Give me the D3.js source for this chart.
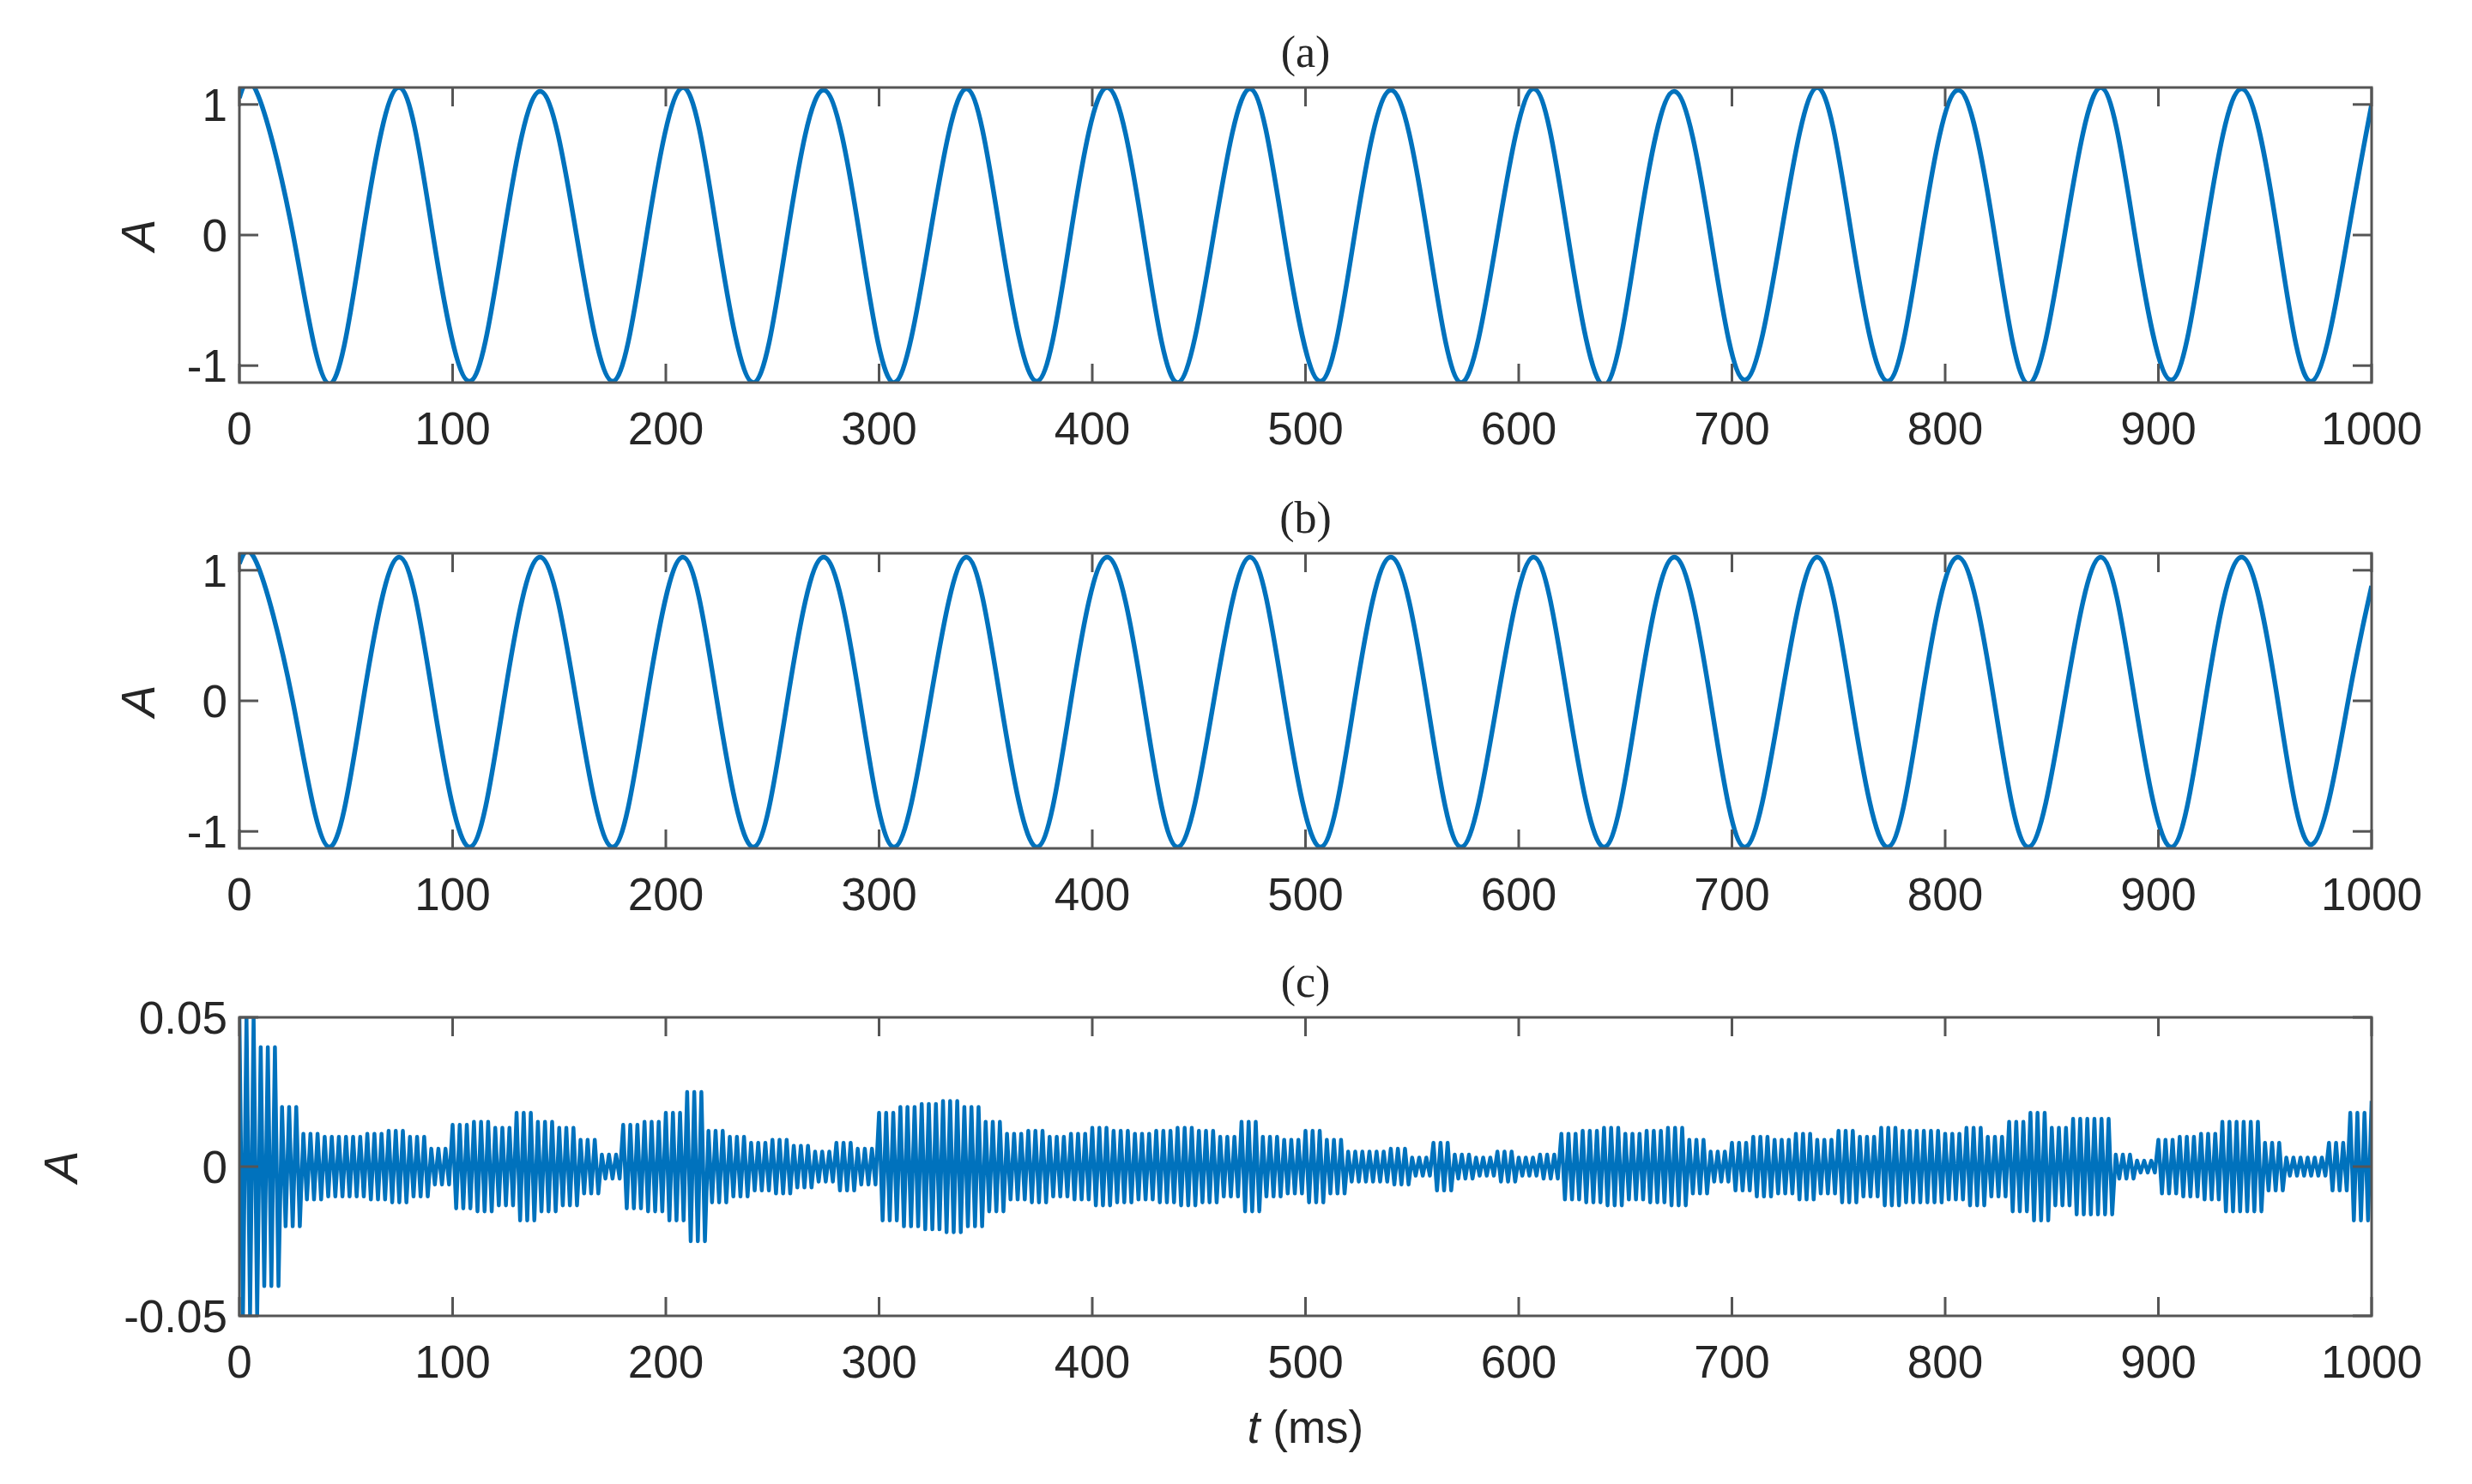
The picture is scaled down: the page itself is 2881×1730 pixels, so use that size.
<!DOCTYPE html>
<html><head><meta charset="utf-8">
<script src="https://cdn.jsdelivr.net/npm/d3@7"></script>
<style>body{margin:0;background:#fff}</style></head>
<body><svg id="c" width="2881" height="1730"></svg>
<script>
// Key points of panel (a) (noisy sine) and (b) (clean sine)
const tKey = [0,8,25,42,58,75,91,108,124,141,158,175,191,208,224,241,257,274,291,307,324,341,357,374,390,407,424,440,457,474,490,507,523,540,557,573,590,607,623,640,656,673,690,706,723,740,756,773,789,806,823,839,856,873,889,906,922,939,956,972,989,1000];
const aVals = [1.05,1.1,0.02,-1.14,0.01,1.13,-0.02,-1.12,0.0,1.1,0.01,-1.12,0.0,1.13,0.02,-1.13,0.0,1.11,-0.01,-1.13,0.01,1.12,0.0,-1.12,0.02,1.13,0.0,-1.13,0.01,1.12,-0.01,-1.12,0.0,1.11,0.02,-1.13,0.0,1.12,0.0,-1.15,0.01,1.1,-0.01,-1.11,0.0,1.13,0.01,-1.12,0.0,1.11,0.02,-1.14,0.0,1.13,0.0,-1.11,0.01,1.12,0.0,-1.12,0.01,1.0];
const bVals = [1.05,1.06,0.0,-1.12,0.0,1.1,0.0,-1.12,0.0,1.1,0.0,-1.12,0.0,1.1,0.0,-1.12,0.0,1.1,0.0,-1.12,0.0,1.1,0.0,-1.12,0.0,1.1,0.0,-1.12,0.0,1.1,0.0,-1.12,0.0,1.1,0.0,-1.12,0.0,1.1,0.0,-1.12,0.0,1.1,0.0,-1.12,0.0,1.1,0.0,-1.12,0.0,1.1,0.0,-1.12,0.0,1.1,0.0,-1.12,0.0,1.1,0.0,-1.1,0.0,0.88];
// Panel (c): residual amplitude envelope per 10 ms bin (units of 0.01)
const cEnv = [5,4,2,1.1,1.0,1.0,1.1,1.2,1.0,0.6,
1.4,1.5,1.3,1.8,1.5,1.3,0.9,0.4,1.4,1.5,
1.8,2.5,1.2,1.0,0.8,0.9,0.7,0.5,0.8,0.6,
1.8,2.0,2.1,2.2,2.0,1.5,1.1,1.2,1.0,1.1,
1.3,1.2,1.1,1.2,1.3,1.2,1.0,1.5,1.0,0.9,
1.2,0.9,0.5,0.5,0.6,0.3,0.8,0.4,0.3,0.5,
0.3,0.4,1.1,1.2,1.3,1.1,1.2,1.3,0.9,0.5,
0.8,1.0,0.9,1.1,0.9,1.2,1.0,1.3,1.2,1.2,
1.1,1.3,1.0,1.5,1.8,1.3,1.6,1.6,0.4,0.2,
0.9,1.0,1.1,1.5,1.5,0.8,0.3,0.3,0.8,1.8,2.2];
const xTicks = [0,100,200,300,400,500,600,700,800,900,1000];
const titles = ["(a)","(b)","(c)"];

const svg=d3.select("#c");
const L=279,R=2764;
const panels=[
 {top:102,bot:446,dom:[-1.13,1.13],ticks:[-1,0,1],fmt:d=>String(d),
  data:tKey.map((t,i)=>[t,aVals[i]]),curve:d3.curveNatural,ylx:162},
 {top:645,bot:989,dom:[-1.13,1.13],ticks:[-1,0,1],fmt:d=>String(d),
  data:tKey.map((t,i)=>[t,bVals[i]]),curve:d3.curveNatural,ylx:162},
 {top:1186,bot:1534,dom:[-0.05,0.05],ticks:[-0.05,0,0.05],fmt:d=>d===0?"0":d.toFixed(2),
  data:(()=>{const p=[];cEnv.forEach((e,i)=>{if(i<100){for(let k=0;k<6;k++){const t=i*10+k*10/6;p.push([t,(k%2?-1:1)*e/100]);}}else p.push([1000,e/100]);});return p;})(),
  curve:d3.curveLinear,ylx:72}
];
const x=d3.scaleLinear().domain([0,1000]).range([L,R]);
const font="'Liberation Sans',Arial,sans-serif";
panels.forEach((p,pi)=>{
  const y=d3.scaleLinear().domain(p.dom).range([p.bot,p.top]);
  const g=svg.append("g");
  const clip="clip"+pi;
  g.append("clipPath").attr("id",clip).append("rect").attr("x",L).attr("y",p.top).attr("width",R-L).attr("height",p.bot-p.top);
  g.append("path").datum(p.data).attr("clip-path",`url(#${clip})`)
   .attr("d",d3.line().x(d=>x(d[0])).y(d=>y(d[1])).curve(p.curve))
   .attr("fill","none").attr("stroke","#0072BD").attr("stroke-width",pi===2?4.5:5.5).attr("stroke-linejoin","round");
  const ax=svg.append("g").attr("stroke","#555").attr("stroke-width",3);
  ax.append("rect").attr("x",L).attr("y",p.top).attr("width",R-L).attr("height",p.bot-p.top).attr("fill","none");
  const tl=22;
  xTicks.forEach(t=>{
    ax.append("line").attr("x1",x(t)).attr("x2",x(t)).attr("y1",p.bot).attr("y2",p.bot-tl);
    ax.append("line").attr("x1",x(t)).attr("x2",x(t)).attr("y1",p.top).attr("y2",p.top+tl);
    svg.append("text").attr("x",x(t)).attr("y",p.bot+72).attr("text-anchor","middle")
      .attr("font-family",font).attr("font-size",53).attr("fill","#262626").text(t);
  });
  p.ticks.forEach(t=>{
    ax.append("line").attr("x1",L).attr("x2",L+tl).attr("y1",y(t)).attr("y2",y(t));
    ax.append("line").attr("x1",R).attr("x2",R-tl).attr("y1",y(t)).attr("y2",y(t));
    svg.append("text").attr("x",L-14).attr("y",y(t)+19).attr("text-anchor","end")
      .attr("font-family",font).attr("font-size",53).attr("fill","#262626").text(p.fmt(t));
  });
  svg.append("text").attr("transform",`translate(${p.ylx+18},${(p.top+p.bot)/2}) rotate(-90)`)
    .attr("text-anchor","middle").attr("font-family",font).attr("font-style","italic")
    .attr("font-size",56).attr("fill","#262626").text("A");
  svg.append("text").attr("x",(L+R)/2).attr("y",p.top-24).attr("text-anchor","middle")
    .attr("font-family","'Liberation Serif',serif").attr("font-size",52).attr("fill","#262626").text(titles[pi]);
});
const xl=svg.append("text").attr("x",(L+R)/2).attr("y",1682).attr("text-anchor","middle")
  .attr("font-family",font).attr("font-size",53).attr("fill","#262626");
xl.append("tspan").attr("font-style","italic").text("t");
xl.append("tspan").text(" (ms)");
</script></body></html>
